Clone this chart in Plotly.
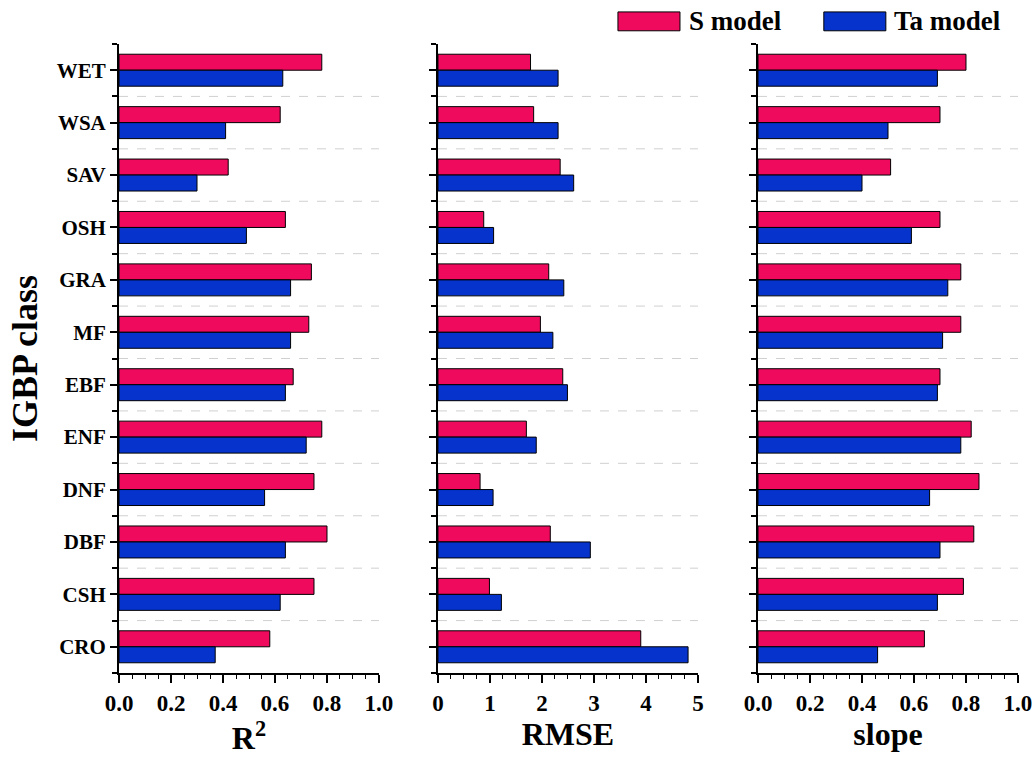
import plotly.graph_objects as go

categories = ["WET", "WSA", "SAV", "OSH", "GRA", "MF", "EBF", "ENF", "DNF", "DBF", "CSH", "CRO"]

r2_s = [0.78, 0.62, 0.42, 0.64, 0.74, 0.73, 0.67, 0.78, 0.75, 0.80, 0.75, 0.58]
r2_ta = [0.63, 0.41, 0.30, 0.49, 0.66, 0.66, 0.64, 0.72, 0.56, 0.64, 0.62, 0.37]

rmse_s = [1.78, 1.84, 2.35, 0.88, 2.13, 1.97, 2.40, 1.70, 0.81, 2.16, 0.99, 3.90]
rmse_ta = [2.31, 2.31, 2.61, 1.07, 2.42, 2.21, 2.49, 1.89, 1.06, 2.93, 1.22, 4.81]

slope_s = [0.80, 0.70, 0.51, 0.70, 0.78, 0.78, 0.70, 0.82, 0.85, 0.83, 0.79, 0.64]
slope_ta = [0.69, 0.50, 0.40, 0.59, 0.73, 0.71, 0.69, 0.78, 0.66, 0.70, 0.69, 0.46]

series_names = ["S model", "Ta model"]
panel_titles = ["R<sup>2</sup>", "RMSE", "slope"]
x_ranges = [[0, 1.0], [0, 5], [0, 1.0]]
x_dticks = [0.2, 1, 0.2]
x_minor = [0.05, 0.25, 0.05]
x_formats = [".1f", "d", ".1f"]

PINK = "#EF0A5E"
BLUE = "#0533CC"
FONT = "Liberation Serif"

panels = [(r2_s, r2_ta), (rmse_s, rmse_ta), (slope_s, slope_ta)]
domains = [[0.0, 0.2892], [0.3548, 0.6440], [0.7108, 1.0]]

ypos = list(range(len(categories)))

fig = go.Figure()
for k, (s_vals, ta_vals) in enumerate(panels):
    xa = "x" if k == 0 else f"x{k+1}"
    ya = "y" if k == 0 else f"y{k+1}"
    for vals, name, col in [(s_vals, series_names[0], PINK), (ta_vals, series_names[1], BLUE)]:
        fig.add_trace(go.Bar(
            x=vals, y=ypos, orientation="h", name=name,
            marker=dict(color=col, line=dict(color="black", width=1)),
            xaxis=xa, yaxis=ya, showlegend=False,
        ))

layout = dict(
    width=1035, height=761,
    margin=dict(l=119, r=17, t=44, b=88),
    plot_bgcolor="white", paper_bgcolor="white",
    barmode="group", bargap=0.39, bargroupgap=0.0,
    font=dict(family=FONT, color="black"),
    showlegend=False,
)

for k in range(3):
    xkey = "xaxis" if k == 0 else f"xaxis{k+1}"
    ykey = "yaxis" if k == 0 else f"yaxis{k+1}"
    layout[xkey] = dict(
        domain=domains[k], anchor="y" if k == 0 else f"y{k+1}",
        range=x_ranges[k], dtick=x_dticks[k], tick0=0, tickformat=x_formats[k],
        showline=True, linecolor="black", linewidth=2,
        ticks="outside", ticklen=8, tickwidth=1.5, tickcolor="black",
        minor=dict(dtick=x_minor[k], ticks="outside", ticklen=4, tickwidth=1.2, tickcolor="black", showgrid=False),
        showgrid=False, zeroline=False, automargin=False,
        tickfont=dict(family=FONT, size=23, color="black", weight="bold"),
        title=dict(text=f"<b>{panel_titles[k]}</b>", font=dict(family=FONT, size=32, color="black"), standoff=6),
    )
    ydict = dict(
        anchor="x" if k == 0 else f"x{k+1}",
        range=[len(categories) - 0.5, -0.5],
        tickmode="array", tickvals=ypos,
        showticklabels=(k == 0),
        showline=True, linecolor="black", linewidth=2,
        ticks="outside", ticklen=7, tickwidth=1.5, tickcolor="black",
        minor=dict(tickmode="array", tickvals=[i + 0.5 for i in range(-1, len(categories))],
                   ticks="outside", ticklen=5, tickwidth=1.5, tickcolor="black", showgrid=False),
        showgrid=False, zeroline=False, automargin=False,
        tickfont=dict(family=FONT, size=21, color="black"),
    )
    if k == 0:
        ydict["ticktext"] = [f"<b>{c}</b>" for c in categories]
        ydict["title"] = dict(text="<b>IGBP class</b>", font=dict(family=FONT, size=36, color="black"), standoff=8)
    layout[ykey] = ydict

fig.update_layout(**layout)

# dashed separators between categories
for k in range(3):
    xref = "x domain" if k == 0 else f"x{k+1} domain"
    yref = "y" if k == 0 else f"y{k+1}"
    for b in [i + 0.5 for i in range(len(categories) - 1)]:
        fig.add_shape(type="line", xref=xref, yref=yref, x0=0, x1=1, y0=b, y1=b,
                      line=dict(color="#D0D0D0", width=1, dash="dash"), layer="below")

# legend drawn with boxes + text
legend_items = [(series_names[0], PINK, 0.555, 0.624, 0.632), (series_names[1], BLUE, 0.784, 0.853, 0.860)]
for name, col, x0, x1, xt in legend_items:
    fig.add_shape(type="rect", xref="paper", yref="paper", x0=x0, x1=x1, y0=1.021, y1=1.051,
                  fillcolor=col, line=dict(color="black", width=1))
    fig.add_annotation(xref="paper", yref="paper", x=xt, y=1.036, text=f"<b>{name}</b>",
                       showarrow=False, xanchor="left", yanchor="middle",
                       font=dict(family=FONT, size=27, color="black"))

fig.write_html("out.html")
